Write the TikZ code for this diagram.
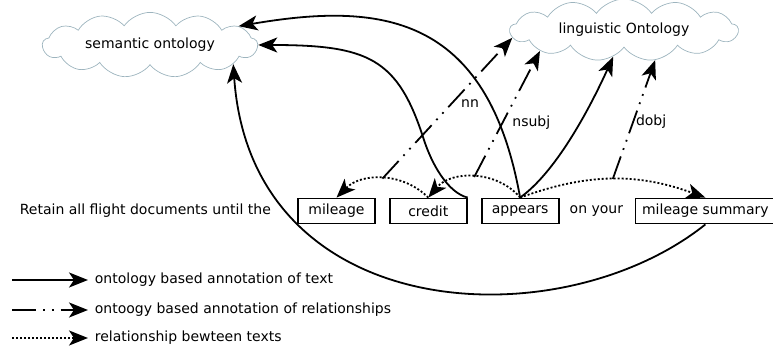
\documentclass[tikz,border=0pt]{standalone}
\usepackage{fontspec}
\setmainfont{DejaVu Sans}
\usetikzlibrary{arrows.meta,positioning,shapes.symbols}
\definecolor{CloudLine}{HTML}{9DB4BE}
\begin{document}
\begin{tikzpicture}[x=1pt,y=1pt,
 onto/.style={cloud,draw=CloudLine,line width=0.7pt,cloud puffs=13,cloud puff arc=110,aspect=4.2,minimum width=215pt,minimum height=48pt,inner sep=0pt,font=\fontsize{14}{16}\selectfont},
 word/.style={draw,line width=1.8pt,minimum width=77pt,minimum height=25pt,inner sep=2pt,font=\fontsize{14}{16}\selectfont},
 plain/.style={inner sep=2pt,font=\fontsize{14}{16}\selectfont},
 lbl/.style={inner sep=2pt,font=\fontsize{14}{16}\selectfont},
 annot/.style={-{Stealth[length=19pt,width=15pt,inset=5pt]},line width=1.8pt},
 relann/.style={annot,dash pattern=on 24pt off 7pt on 1.8pt off 7pt on 1.8pt off 7pt},
 reltext/.style={annot,dash pattern=on 2pt off 2pt}]
 \useasboundingbox(0,0)rectangle(773,347);
 \node[onto](sem) at (150,302){semantic ontology};
 \node[onto,minimum width=228pt,aspect=4.6](ling) at (624,317){linguistic Ontology};
 \node[word](mileage) at (336.5,136){mileage};
 \node[word,right=13pt of mileage](credit){credit};
 \node[word,right=13pt of credit](appears){appears};
 \node[plain,right=8pt of appears](onyour){on your};
 \node[word,minimum width=140pt,right=75pt of appears](summary){mileage summary};
 \node[plain,left=24pt of mileage](retain){Retain all flight documents until the};
 % relationships between the words
 \draw[reltext](credit.north) to[bend right=45] coordinate[pos=0.5](nnfrom) (mileage.north);
 \draw[reltext](appears.north) to[bend right=50] coordinate[pos=0.5](nsubjfrom) (credit.north);
 \draw[reltext](appears.north) to[bend left=20] coordinate[pos=0.5](dobjfrom) (summary.north);
 \draw[relann](nnfrom)--node[lbl,pos=0.53,right=7pt]{nn}(ling.184);
 \draw[relann](nsubjfrom)--node[lbl,pos=0.43,right=7pt]{nsubj}(ling.194);
 \draw[relann](dobjfrom)--node[lbl,pos=0.48,right]{dobj}(ling.316);
 % ontology annotations
 \draw[annot](credit.north east) .. controls +(-20,5) and +(8,-25) .. ++(-44,58.5) .. controls +(-26,81) and +(110,0) .. (sem.east);
 \draw[annot](appears.north) .. controls +(-33,185) and +(140,24) .. (sem.12);
 \draw[annot](appears.north) .. controls +(35,25) and +(-25,-55) .. (ling.248);
 \draw[annot](summary.south) .. controls +(-145,-116) and +(18,-262) .. (sem.-13);
 % legend
 \coordinate(k1) at (12,67); \coordinate(k2) at (12,37); \coordinate(k3) at (12,9);
 \draw[annot](k1)--++(76,0) node[lbl,right=4pt](t1){ontology based annotation of text};
 \draw[relann](k2)--++(76,0) node[lbl,right=4pt](t2){ontoogy based annotation of relationships};
 \draw[reltext](k3)--++(76,0) node[lbl,right=4pt](t3){relationship bewteen texts};
\end{tikzpicture}
\end{document}
